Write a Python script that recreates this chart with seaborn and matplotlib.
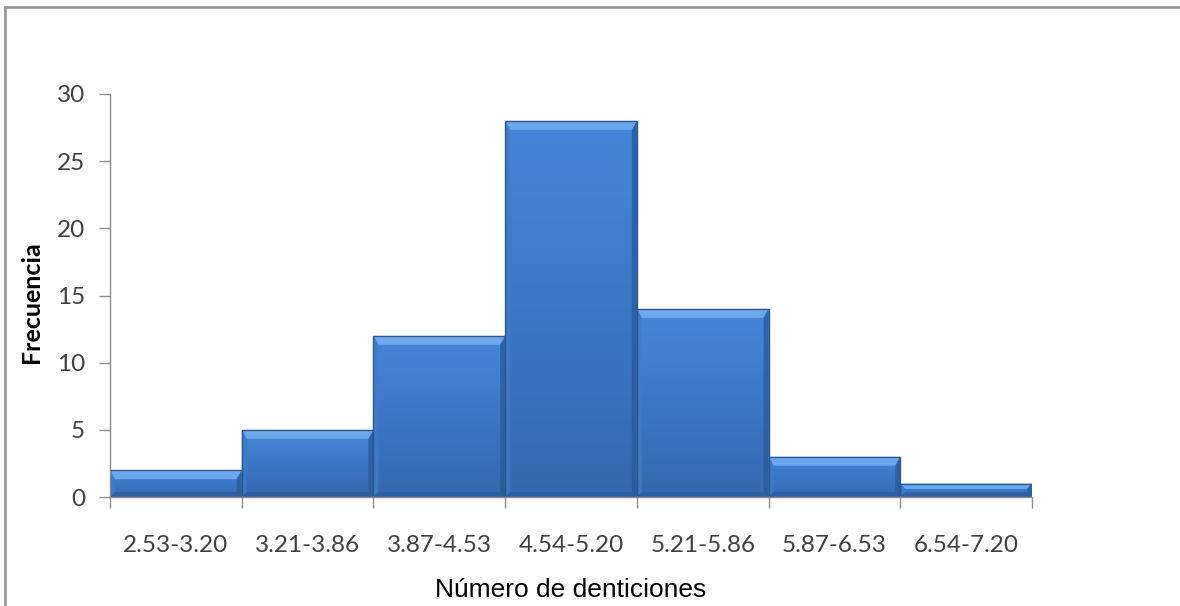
import matplotlib
matplotlib.use("Agg")
import matplotlib.pyplot as plt
import seaborn as sns
import pandas as pd
import numpy as np
from matplotlib.patches import Polygon
from matplotlib.lines import Line2D
from matplotlib.colors import LinearSegmentedColormap

# Frequency table of dentition counts
intervalos = ["2.53-3.20", "3.21-3.86", "3.87-4.53", "4.54-5.20",
              "5.21-5.86", "5.87-6.53", "6.54-7.20"]
frecuencias = [2, 5, 12, 28, 14, 3, 1]

df = pd.DataFrame({"intervalo": intervalos, "frecuencia": frecuencias})

sns.set_theme(style="white")
plt.rcParams["font.family"] = ["Lato", "DejaVu Sans"]

W, H = 1180, 606
fig = plt.figure(figsize=(W / 100, H / 100), dpi=100)
ax = fig.add_axes([110 / W, 1 - 497 / H, (1032 - 110) / W, (497 - 94) / H])

BASE = "#3D7ECF"
sns.barplot(data=df, x="intervalo", y="frecuencia", color=BASE,
            width=1.0, saturation=1, edgecolor="#2D5C9A", linewidth=0.8, ax=ax)

# Vertical gradient fill plus a bevelled rim for each bar
grad = LinearSegmentedColormap.from_list("barra", ["#3567AD", "#3C78C6", "#4487D7"])
ramp = np.linspace(0, 1, 256).reshape(-1, 1)

px_x = len(intervalos) / (1032 - 110)
px_y = 30 / (497 - 94)
for p in list(ax.patches):
    x0, y0 = p.get_x(), p.get_y()
    w, h = p.get_width(), p.get_height()
    x1, y1 = x0 + w, y0 + h
    z = p.get_zorder()
    img = ax.imshow(ramp, cmap=grad, origin="lower", extent=(x0, x1, y0, y1),
                    aspect="auto", zorder=z + 0.05, interpolation="bilinear")
    img.set_clip_path(p)

    bt = min(9, (h / px_y) / 2.5)
    bs = min(5, bt)
    tx, ty = bt * px_x, bt * px_y
    sx, sy = bs * px_x, bs * px_y
    zz = z + 0.1
    ax.add_patch(Polygon([[x0, y1], [x1, y1], [x1 - sx, y1 - ty], [x0 + sx, y1 - ty]],
                         closed=True, facecolor="#6CA7EC", edgecolor="none", zorder=zz))
    ax.add_patch(Polygon([[x0, y1], [x0 + sx, y1 - ty], [x0 + sx, y0 + sy], [x0, y0]],
                         closed=True, facecolor="#3F7CCA", alpha=0.8, edgecolor="none", zorder=zz))
    ax.add_patch(Polygon([[x1, y1], [x1 - sx, y1 - ty], [x1 - sx, y0 + sy], [x1, y0]],
                         closed=True, facecolor="#2A5A9C", alpha=0.8, edgecolor="none", zorder=zz))
    ax.add_patch(Polygon([[x0, y0], [x1, y0], [x1 - sx, y0 + sy], [x0 + sx, y0 + sy]],
                         closed=True, facecolor="#2C5C9E", alpha=0.7, edgecolor="none", zorder=zz))
    ax.add_patch(plt.Rectangle((x0, y0), w, h, facecolor="none", edgecolor="#2B578F",
                               linewidth=0.9, zorder=z + 0.2))

ax.set_xlim(-0.5, len(intervalos) - 0.5)
ax.set_ylim(0, 30)

# Axes styling
for s in ("top", "right"):
    ax.spines[s].set_visible(False)
for s in ("left", "bottom"):
    ax.spines[s].set_color("#8C8C8C")
    ax.spines[s].set_linewidth(1.0)
    ax.spines[s].set_zorder(5)

ax.set_yticks(range(0, 31, 5))
ax.tick_params(axis="y", direction="out", length=8, width=1, color="#8C8C8C",
               labelsize=17.5, labelcolor="#404040", pad=10, left=True)

ax.set_xticks(np.arange(-0.5, len(intervalos), 1.0))
ax.set_xticklabels([])
ax.set_xticks(np.arange(len(intervalos)), minor=True)
ax.set_xticklabels(intervalos, minor=True)
ax.tick_params(axis="x", which="major", direction="out", length=8, width=1,
               color="#8C8C8C", bottom=True)
ax.tick_params(axis="x", which="minor", length=0, labelsize=17.5,
               labelcolor="#404040", pad=27)

ax.set_xlabel("Número de denticiones", family=["Liberation Sans", "DejaVu Sans"],
              fontsize=19, color="black", labelpad=16)
ax.set_ylabel("Frecuencia", fontsize=18, fontweight="bold", color="black")
ax.yaxis.set_label_coords((43 - 110) / (1032 - 110), (497 - 302) / (497 - 94))

# Outer chart frame (left and top edges)
fig.add_artist(Line2D([5 / W, 5 / W], [0, 1 - 7 / H], color="#9A9A9A", linewidth=2,
                      transform=fig.transFigure))
fig.add_artist(Line2D([5 / W, 1], [1 - 7 / H, 1 - 7 / H], color="#9A9A9A", linewidth=2,
                      transform=fig.transFigure))

fig.savefig("out.png", dpi=100)
